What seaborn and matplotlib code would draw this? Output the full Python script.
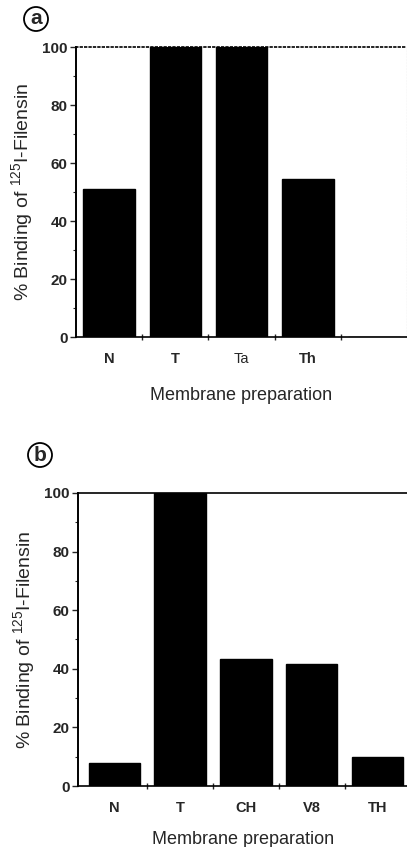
import seaborn as sns
import matplotlib.pyplot as plt
import pandas as pd
from matplotlib.ticker import MultipleLocator, FixedLocator

# panel a
cats_a = ["N", "T", "Ta", "Th", ""]
vals_a = [51, 100, 100, 54.5, 0]
# panel b
cats_b = ["N", "T", "CH", "V8", "TH"]
vals_b = [8, 100, 43.5, 41.5, 10]

sns.set_theme(style="white")
plt.rcParams['font.family'] = ['Liberation Sans', 'DejaVu Sans']
plt.rcParams['mathtext.fontset'] = 'custom'
plt.rcParams['mathtext.rm'] = 'Liberation Sans'
plt.rcParams['mathtext.default'] = 'regular'

fig = plt.figure(figsize=(4.07, 8.47), dpi=100)
ax_a = fig.add_axes([0.187, 0.602, 0.813, 0.3425])
ax_b = fig.add_axes([0.192, 0.072, 0.808, 0.346])

ylabel = "% Binding of $^{125}$I-Filensin"


def draw(ax, cats, vals, xlim, letter, letter_xy, xlabel_pad):
    df = pd.DataFrame({"prep": cats, "binding": vals})
    sns.barplot(data=df, x="prep", y="binding", order=cats, color="black",
                width=0.78, saturation=1, ax=ax)
    for p in ax.patches:
        p.set_edgecolor("black")
    ax.set_ylim(0, 100)
    ax.set_xlim(*xlim)
    # boundary ticks without labels, labels at category centres
    ax.xaxis.set_major_locator(FixedLocator([i + 0.5 for i in range(len(cats) - 1)]))
    ax.set_xticklabels([])
    ax.xaxis.set_minor_locator(FixedLocator(range(len(cats))))
    ax.set_xticklabels(cats, minor=True, fontsize=10.5, fontweight="bold")
    for lab in ax.get_xticklabels(minor=True):
        if lab.get_text() == "Ta":
            lab.set_fontweight("normal")
    ax.tick_params(axis="x", which="major", direction="inout", length=4, width=1, bottom=True)
    ax.tick_params(axis="x", which="minor", length=0, pad=11)
    ax.yaxis.set_major_locator(MultipleLocator(20))
    ax.yaxis.set_minor_locator(MultipleLocator(10))
    ax.tick_params(axis="y", which="major", left=True, length=4, width=1, labelsize=11, pad=2)
    ax.tick_params(axis="y", which="minor", left=True, length=2, width=0.8)
    for lab in ax.get_yticklabels():
        lab.set_fontweight("bold")
    ax.set_xlabel("Membrane preparation", fontsize=13, labelpad=xlabel_pad)
    ax.set_ylabel(ylabel, fontsize=14, labelpad=5)
    ax.spines["left"].set_linewidth(1.4)
    ax.spines["bottom"].set_linewidth(1.2)
    for s in ax.spines.values():
        s.set_color("black")
    fig.text(letter_xy[0], letter_xy[1], letter, fontsize=15, fontweight="bold",
             ha="center", va="center",
             bbox=dict(boxstyle="circle,pad=0.12", fc="white", ec="black", lw=1.3))


draw(ax_a, cats_a, vals_a, (-0.5, 4.5), "a", (36 / 407, 1 - 19 / 847), 15)
ax_a.spines["top"].set_linestyle(":")
ax_a.spines["top"].set_linewidth(1.2)
ax_a.spines["right"].set_linestyle(":")
ax_a.spines["right"].set_color("#999999")
ax_a.spines["right"].set_linewidth(0.8)

draw(ax_b, cats_b, vals_b, (-0.55, 4.45), "b", (40 / 407, 1 - 455 / 847), 11)
ax_b.spines["top"].set_linewidth(1.2)
ax_b.spines["right"].set_visible(False)

fig.savefig("out.png", dpi=100)
